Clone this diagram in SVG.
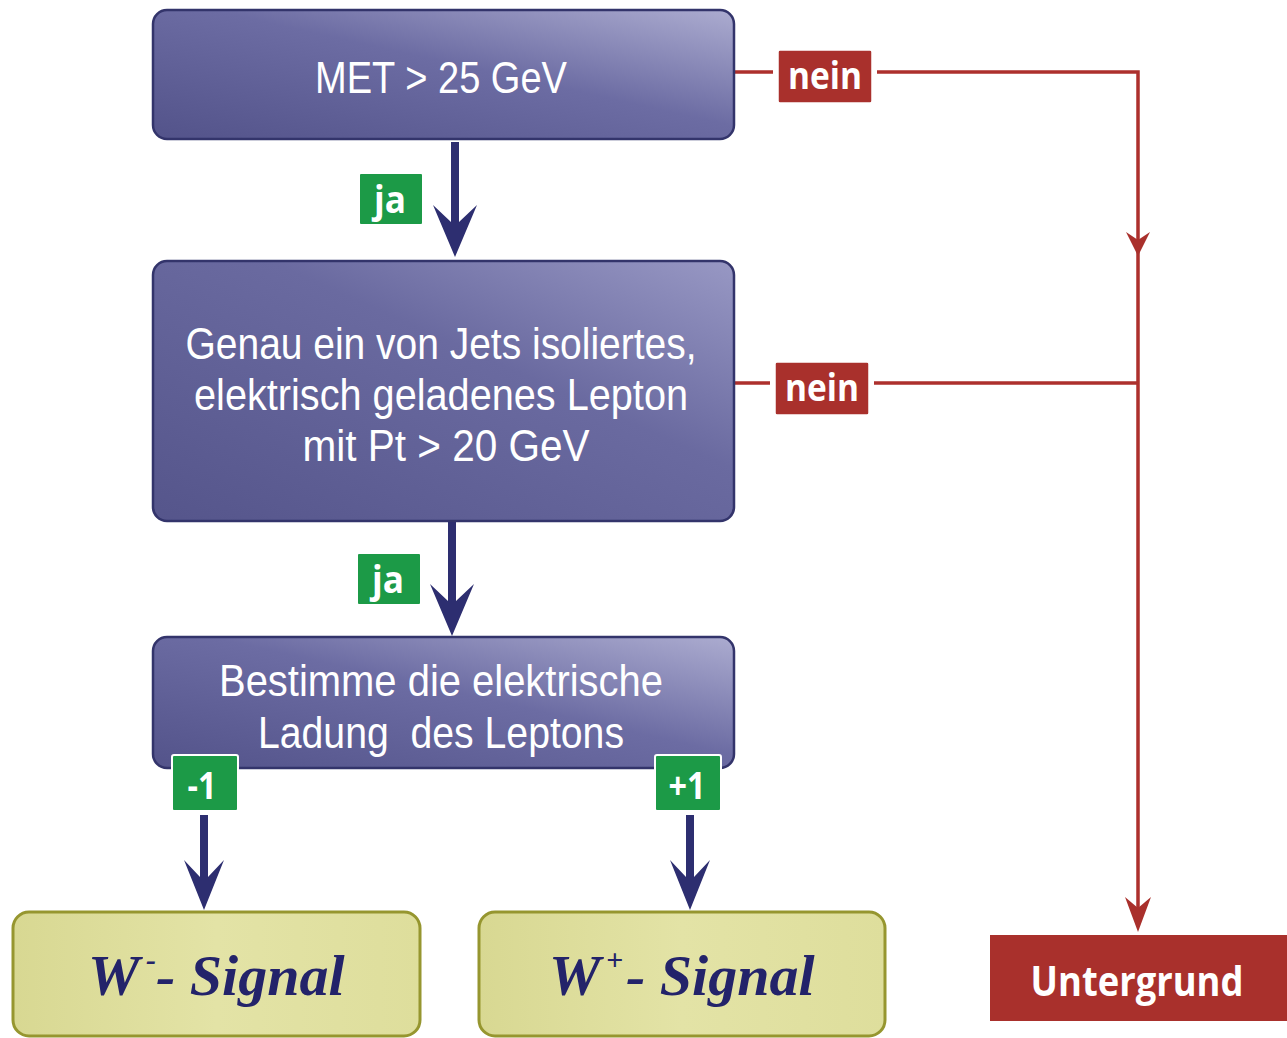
<svg xmlns="http://www.w3.org/2000/svg" width="1287" height="1038" viewBox="0 0 1287 1038">
<defs>
<linearGradient id="gPurple" x1="0" y1="1" x2="1" y2="0">
<stop offset="0" stop-color="#53538a"/>
<stop offset="0.55" stop-color="#6c6ca3"/>
<stop offset="1" stop-color="#acacd0"/>
</linearGradient>
<linearGradient id="gPurple2" x1="0" y1="1" x2="1" y2="0">
<stop offset="0" stop-color="#55558b"/>
<stop offset="0.6" stop-color="#6a6aa0"/>
<stop offset="1" stop-color="#9898c4"/>
</linearGradient>
<linearGradient id="gYellow" x1="0" y1="0" x2="1" y2="0">
<stop offset="0" stop-color="#d8d892"/>
<stop offset="0.5" stop-color="#e3e3a6"/>
<stop offset="1" stop-color="#dede9c"/>
</linearGradient>
<style>
.pbox{stroke:#33346b;stroke-width:2.5}
.ybox{fill:url(#gYellow);stroke:#96962f;stroke-width:3}
.wt{font-family:"Liberation Sans",Arial,sans-serif;fill:#ffffff;font-size:44px;text-anchor:middle}
.lbl{font-family:"Open Sans","Noto Sans",sans-serif;font-weight:bold;fill:#ffffff;text-anchor:middle}
.grn{fill:#1c9a47;stroke:#ffffff;stroke-width:2}
.red{fill:#a9302c}
.rline{fill:none;stroke:#ad302d;stroke-width:3.5}
.blue{fill:#2d2e70}
.sig{font-family:"Liberation Serif","Times New Roman",serif;font-weight:bold;font-style:italic;fill:#23236a;font-size:58px}
</style>
</defs>
<rect width="1287" height="1038" fill="#ffffff"/>

<g id="connectors">
<path class="rline" d="M734,72 H773 M877,72 H1138 V925"/>
<path class="rline" d="M734,383 H770 M874,383 H1138"/>
<path class="red" d="M1138,256 L1126,232 L1138,240 L1150,232 Z"/>
<path class="red" d="M1138,932 L1125,897 L1138,908 L1151,897 Z"/>
<path class="blue" d="M455,257 L433,205 L451,222 L451,142 L459,142 L459,222 L477,205 Z"/>
<path class="blue" d="M452,636 L430,584 L448,601 L448,522 L456,522 L456,601 L474,584 Z"/>
<path class="blue" d="M204,910 L184,860 L200,877 L200,815 L208,815 L208,877 L224,860 Z"/>
<path class="blue" d="M690,910 L670,860 L686,877 L686,815 L694,815 L694,877 L710,860 Z"/>
</g>

<g id="n-met">
<rect class="pbox" x="153" y="10" width="581" height="129" rx="14" fill="url(#gPurple)"/>
<text class="wt" x="441" y="93" textLength="252" lengthAdjust="spacingAndGlyphs">MET &gt; 25 GeV</text>
</g>

<g id="n-lepton">
<rect class="pbox" x="153" y="261" width="581" height="260" rx="14" fill="url(#gPurple2)"/>
<text class="wt"><tspan x="441" y="359" textLength="511" lengthAdjust="spacingAndGlyphs">Genau ein von Jets isoliertes,</tspan><tspan x="441" y="410" textLength="494" lengthAdjust="spacingAndGlyphs">elektrisch geladenes Lepton</tspan><tspan x="446" y="461" textLength="287" lengthAdjust="spacingAndGlyphs">mit Pt &gt; 20 GeV</tspan></text>
</g>

<g id="n-charge">
<rect class="pbox" x="153" y="637" width="581" height="131" rx="14" fill="url(#gPurple)"/>
<text class="wt" xml:space="preserve"><tspan x="441" y="696" textLength="444" lengthAdjust="spacingAndGlyphs">Bestimme die elektrische</tspan><tspan x="441" y="748" textLength="366" lengthAdjust="spacingAndGlyphs">Ladung  des Leptons</tspan></text>
</g>

<g id="l-nein1">
<rect class="red" x="778" y="50" width="94" height="53" rx="2" stroke="#ffffff" stroke-width="1.5"/>
<text class="lbl" x="825" y="89" font-size="38" textLength="74" lengthAdjust="spacingAndGlyphs">nein</text>
</g>
<g id="l-nein2">
<rect class="red" x="775" y="362" width="94" height="53" rx="2" stroke="#ffffff" stroke-width="1.5"/>
<text class="lbl" x="822" y="401" font-size="38" textLength="74" lengthAdjust="spacingAndGlyphs">nein</text>
</g>
<g id="l-ja1">
<rect class="grn" x="359" y="173" width="64" height="52" rx="2"/>
<text class="lbl" x="390" y="213" font-size="38" textLength="32" lengthAdjust="spacingAndGlyphs">ja</text>
</g>
<g id="l-ja2">
<rect class="grn" x="357" y="553" width="64" height="52" rx="2"/>
<text class="lbl" x="388" y="593" font-size="38" textLength="32" lengthAdjust="spacingAndGlyphs">ja</text>
</g>
<g id="l-minus1">
<rect class="grn" x="172" y="755" width="66" height="56" rx="2"/>
<text class="lbl" x="202" y="799" font-size="38" textLength="29" lengthAdjust="spacingAndGlyphs">-1</text>
</g>
<g id="l-plus1">
<rect class="grn" x="655" y="755" width="66" height="56" rx="2"/>
<text class="lbl" x="687" y="799" font-size="38" textLength="37" lengthAdjust="spacingAndGlyphs">+1</text>
</g>

<g id="n-wminus">
<rect class="ybox" x="13" y="912" width="407" height="124" rx="16"/>
<text class="sig"><tspan x="88" y="995">W</tspan><tspan x="146" y="970" font-size="30">-</tspan><tspan x="156" y="995">- Signal</tspan></text>
</g>

<g id="n-wplus">
<rect class="ybox" x="479" y="912" width="406" height="124" rx="16"/>
<text class="sig"><tspan x="549" y="995">W</tspan><tspan x="606" y="970" font-size="30">+</tspan><tspan x="626" y="995">- Signal</tspan></text>
</g>

<g id="n-untergrund">
<rect class="red" x="990" y="935" width="297" height="86"/>
<text class="lbl" x="1137" y="996" font-size="42" font-family="'DejaVu Sans',sans-serif" textLength="213" lengthAdjust="spacingAndGlyphs">Untergrund</text>
</g>
</svg>
